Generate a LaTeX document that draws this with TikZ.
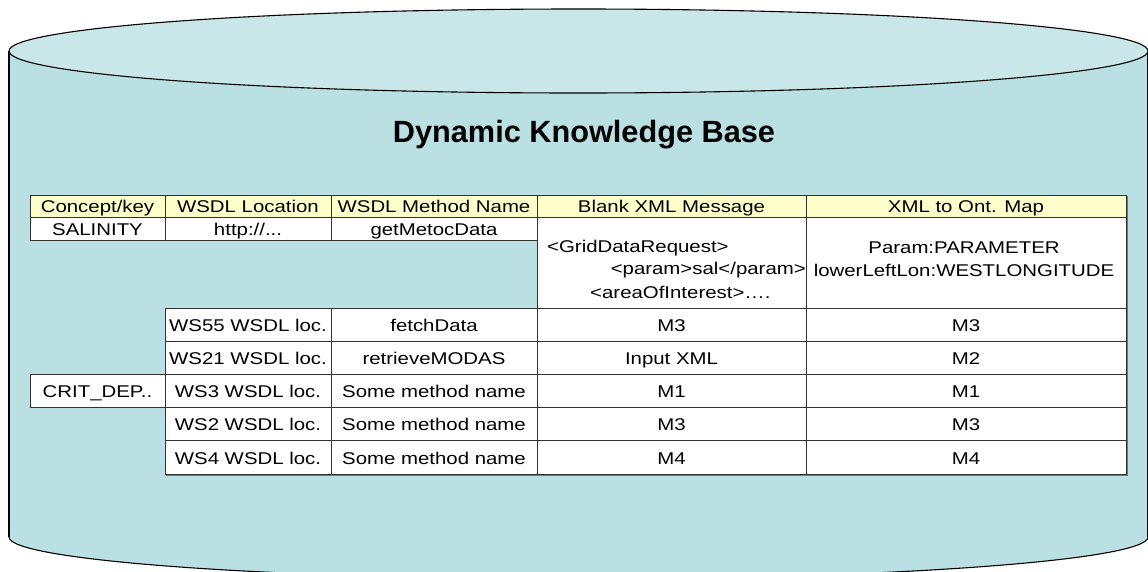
\documentclass[tikz,border=0pt]{standalone}
\usepackage{fontspec}
\setmainfont{Liberation Sans}
\newfontfamily\cellfont[FakeStretch=1.2]{Liberation Sans}
\usetikzlibrary{positioning}
\definecolor{dbside}{RGB}{186,224,227}
\definecolor{dbtop}{RGB}{201,230,232}
\definecolor{hdryellow}{RGB}{255,255,204}

\begin{document}
\begin{tikzpicture}[x=1pt, y=-1pt,
    celltext/.style={inner sep=0pt, font=\cellfont\fontsize{17}{21}\selectfont},
    cell/.style={celltext, draw=black!80, line width=0.9pt, fill=white, anchor=north west, outer sep=0pt,
        text height=13.5, text depth=0pt},
    hdr/.style={cell, fill=hdryellow, minimum height=22},
    dbline/.style={draw=black, line width=1.1pt}]
        \useasboundingbox (0,0) rectangle (1148,571);
        % cylinder
        \draw[dbline, fill=dbside] (578.5,537) ellipse [x radius=569.5, y radius=42];
        \fill[dbside] (9,51) rectangle (1148,537);
        \draw[dbline] (9,51) -- (9,537);
        \draw[dbline] (1148,51) -- (1148,537);
        \draw[dbline, fill=dbtop] (578.5,51) ellipse [x radius=569.5, y radius=42];
        \node[font=\bfseries\fontsize{30.7}{36}\selectfont] (title) at (584,135) {Dynamic Knowledge Base};
        % header row
        \foreach \x/\w/\n/\txt in {30/135/hkey/{Concept/key}, 165/166/hloc/WSDL Location,
            331/206/hmeth/WSDL Method Name, 537/269/hmsg/Blank XML Message, 806/320/hmap/XML to Ont. Map}
            \node[hdr, minimum width=\w] (\n) at (\x,195) {\txt};
        % SALINITY row
        \node[cell, minimum width=135, minimum height=23] (salkey) at (30,217) {SALINITY};
        \node[cell, minimum width=166, minimum height=23] (salloc) at (165,217) {http://...};
        \node[cell, minimum width=206, minimum height=23] (salmeth) at (331,217) {getMetocData};
        \node[cell, minimum width=269, minimum height=91] (salmsg) at (537,217) {};
        \node[cell, minimum width=320, minimum height=91] (salmap) at (806,217) {};
        \node[celltext, anchor=west] (xml1) at (547,248) {<GridDataRequest>};
        \node[celltext, anchor=east] (xml2) at (806,270) {<param>sal</param>};
        \node[celltext, anchor=west] (xml3) at (590,292) {<areaOfInterest>….};
        \node[celltext] (map1) at (964,248) {Param:PARAMETER};
        \node[celltext] (map2) at (964,270) {lowerLeftLon:WESTLONGITUDE};
        % web service rows
        \foreach \y/\n/\loc/\meth/\msg/\map in {308/a/WS55 WSDL loc./fetchData/M3/M3,
            341.2/b/WS21 WSDL loc./retrieveMODAS/Input XML/M2,
            374.4/c/WS3 WSDL loc./Some method name/M1/M1,
            407.6/d/WS2 WSDL loc./Some method name/M3/M3,
            440.8/e/WS4 WSDL loc./Some method name/M4/M4} {
            \node[cell, minimum width=166, minimum height=33.2] (loc\n) at (165,\y) {\loc};
            \node[cell, minimum width=206, minimum height=33.2] (meth\n) at (331,\y) {\meth};
            \node[cell, minimum width=269, minimum height=33.2] (msg\n) at (537,\y) {\msg};
            \node[cell, minimum width=320, minimum height=33.2] (map\n) at (806,\y) {\map};
        }
        \node[cell, minimum width=135, minimum height=33.2] (critkey) at (30,374.4) {CRIT\_DEP..};
        % shadow
        \draw[black!55, line width=1.2pt] ([shift={(1,1.2)}]loce.south west) -- ([shift={(1.2,1.2)}]mape.south east)
            -- ([shift={(1.2,1)}]hmap.north east);
\end{tikzpicture}
\end{document}
